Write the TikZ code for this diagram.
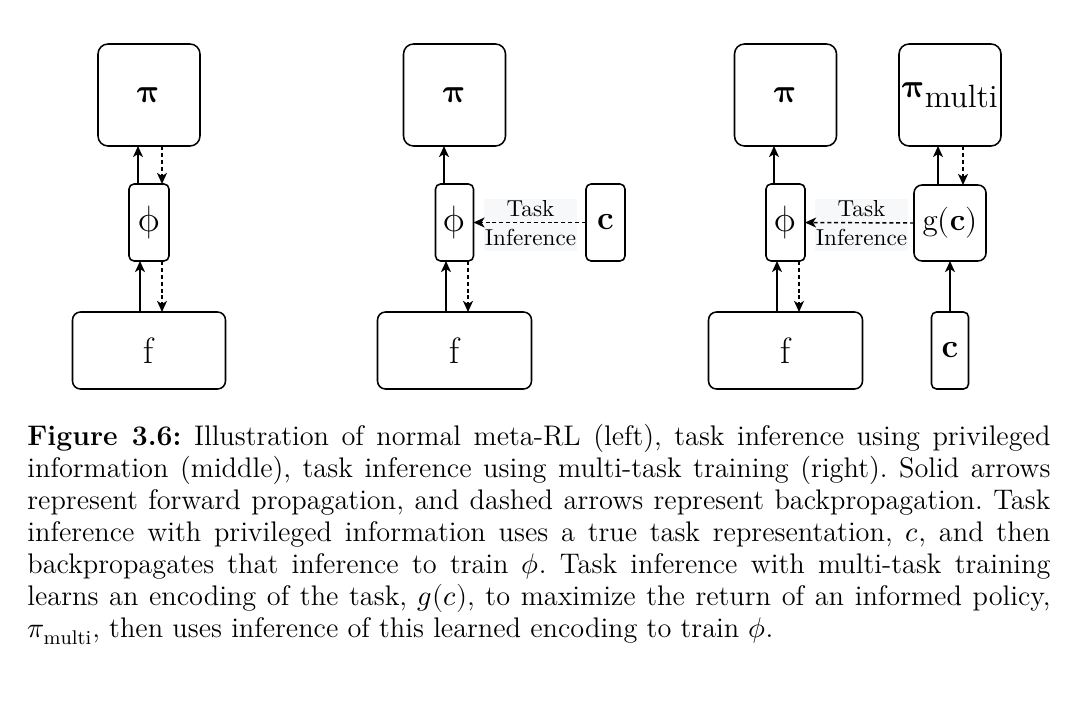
\documentclass[tikz,border=0pt]{standalone}
\usepackage{unicode-math}
\setmathfont{Latin Modern Math}
\usepackage{graphicx}
\usetikzlibrary{arrows.meta}
\definecolor{labelbg}{RGB}{246,248,250}
\tikzset{
  rbox/.style={draw, line width=0.7pt, inner sep=0pt, outer sep=0pt, rounded corners=#1,
    font=\fontsize{15}{17}\selectfont},
  big/.style={font=\fontsize{16.5}{18}\selectfont},
  fwd/.style={line width=0.65pt, -{Stealth[length=5pt,width=4.5pt,inset=1.4pt]}},
  bwd/.style={fwd, dash pattern=on 1.8pt off 1.3pt},
  lbl/.style={inner sep=0pt, anchor=base, font=\fontsize{10.4}{12}\selectfont},
  lblbg/.style={fill=labelbg, inner sep=0pt, minimum width=41.85pt, minimum height=23.4pt}
}
\begin{document}
\begin{tikzpicture}[x=0.45pt,y=-0.45pt]
\useasboundingbox (0,0) rectangle (1080,718);
% ---------- left panel
\node[rbox=4.5pt, minimum width=45.9pt, minimum height=45.9pt] (pi1) at (149,95) {$\symbfup{\pi}$};
\node[rbox=2.25pt, big, minimum width=18pt, minimum height=34.65pt] (phi1) at (149,222.5) {$\symup{\phi}$};
\node[rbox=3.6pt, big, minimum width=68.85pt, minimum height=34.65pt] (f1) at (149,350.5) {f};
\draw[fwd] ([xshift=-4.95pt]phi1.north) -- ([xshift=-4.95pt]pi1.south);
\draw[bwd] ([xshift=5.85pt]pi1.south) -- ([xshift=5.85pt]phi1.north);
\draw[fwd] ([xshift=-4.05pt]f1.north) -- ([xshift=-4.05pt]phi1.south);
\draw[bwd] ([xshift=5.85pt]phi1.south) -- ([xshift=5.85pt]f1.north);
% ---------- middle panel
\node[rbox=4.5pt, minimum width=45.9pt, minimum height=45.9pt] (pi2) at (454.5,95) {$\symbfup{\pi}$};
\node[rbox=2.25pt, big, minimum width=17.1pt, minimum height=34.65pt] (phi2) at (454.5,222.5) {$\symup{\phi}$};
\node[rbox=3.6pt, big, minimum width=69.3pt, minimum height=34.65pt] (f2) at (454.5,350.5) {f};
\node[rbox=2.25pt, minimum width=17.55pt, minimum height=34.65pt] (c2) at (605.5,222.5) {$\mathbf{c}$};
\draw[fwd] ([xshift=-4.725pt]phi2.north) -- ([xshift=-4.725pt]pi2.south);
\draw[fwd] ([xshift=-3.825pt]f2.north) -- ([xshift=-3.825pt]phi2.south);
\draw[bwd] ([xshift=6.075pt]phi2.south) -- ([xshift=6.075pt]f2.north);
\node[lblbg] (bg2) at (530.5,225) {};
\draw[bwd] (c2.west) -- (phi2.east);
\node[lbl] (task2) at (530.5,216.7) {Task};
\node[lbl] (inf2) at (530.5,245) {Inference};
% ---------- right panel
\node[rbox=4.5pt, minimum width=45.9pt, minimum height=45.9pt] (pi3) at (785.5,95) {$\symbfup{\pi}$};
\node[rbox=2.25pt, big, minimum width=17.55pt, minimum height=34.65pt] (phi3) at (785.5,222.5) {$\symup{\phi}$};
\node[rbox=3.6pt, big, minimum width=69.3pt, minimum height=34.65pt] (f3) at (785.5,350.5) {f};
\node[rbox=4.5pt, minimum width=45.9pt, minimum height=45.9pt] (pim) at (950,95) {$\symbfup{\pi}$\raisebox{-4.5pt}{\fontsize{14.5}{16}\selectfont multi}};
\node[rbox=3.6pt, minimum width=32.4pt, minimum height=34.2pt] (g) at (950,223) {\fontsize{14}{16}\selectfont$\mathrm{g}(\mathbf{c})$};
\node[rbox=2.25pt, minimum width=16.65pt, minimum height=34.65pt] (c3) at (950,350.5) {$\mathbf{c}$};
\draw[fwd] ([xshift=-5.175pt]phi3.north) -- ([xshift=-5.175pt]pi3.south);
\draw[fwd] ([xshift=-3.825pt]f3.north) -- ([xshift=-3.825pt]phi3.south);
\draw[bwd] ([xshift=6.075pt]phi3.south) -- ([xshift=6.075pt]f3.north);
\draw[fwd] ([xshift=-5.4pt]g.north) -- ([xshift=-5.4pt]pim.south);
\draw[bwd] ([xshift=5.85pt]pim.south) -- ([xshift=5.85pt]g.north);
\draw[fwd] (c3.north) -- (g.south);
\node[lblbg] (bg3) at (861.5,225) {};
\draw[bwd] (g.west) -- (phi3.east);
\node[lbl] (task3) at (861.5,216.7) {Task};
\node[lbl] (inf3) at (861.5,245) {Inference};
% ---------- caption
\node[anchor=base west, text width=460.35pt, align=justify, inner sep=0pt,
      font=\fontsize{12.75}{14.4}\selectfont] (cap) at (27,445)
{\tolerance=10000\emergencystretch=20pt\frenchspacing
\textbf{Figure 3.6:} Illustration of normal meta-RL (left), task inference using privileged\linebreak
information (middle), task inference using multi-task training (right). Solid arrows\linebreak
represent forward propagation, and dashed arrows represent backpropagation. Task\linebreak
inference with privileged information uses a true task representation, $c$, and then\linebreak
backpropagates that inference to train $\phi$. Task inference with multi-task training\linebreak
learns an encoding of the task, $g(c)$, to maximize the return of an informed policy,\linebreak
$\pi_{\mathrm{multi}}$, then uses inference of this learned encoding to train $\phi$.};
\end{tikzpicture}
\end{document}
